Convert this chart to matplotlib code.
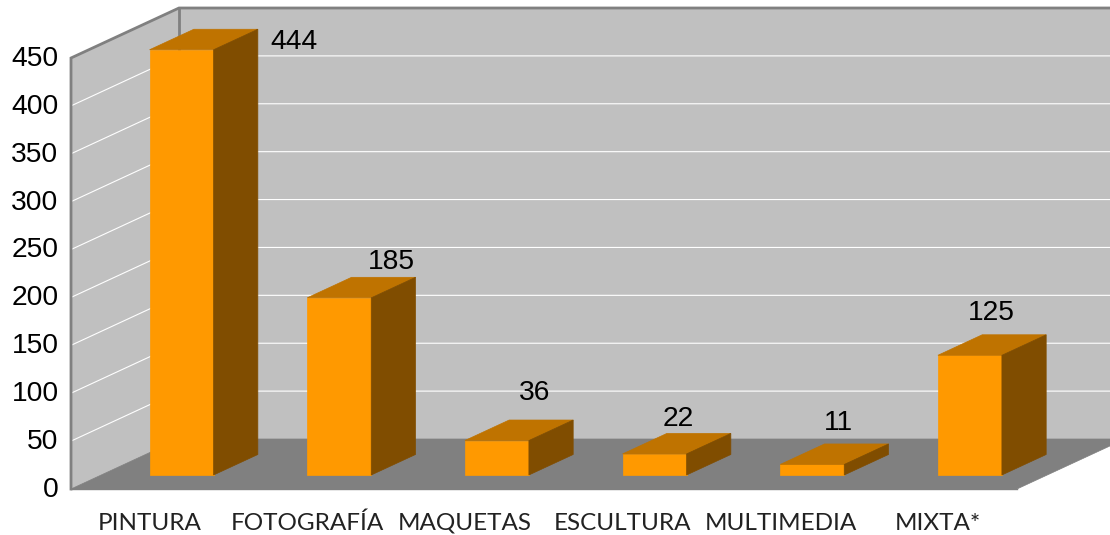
import matplotlib
matplotlib.use("Agg")
import matplotlib.pyplot as plt
from matplotlib.patches import Polygon
from matplotlib.transforms import ScaledTranslation

categories = ['PINTURA', 'FOTOGRAFÍA', 'MAQUETAS', 'ESCULTURA', 'MULTIMEDIA', 'MIXTA*']
values = [444, 185, 36, 22, 11, 125]
yticks = [0, 50, 100, 150, 200, 250, 300, 350, 400, 450]

# where the value labels sit, px away from the top front centre of each bar
label_dx = [112, 52, 38, 24, 26, 21]
label_dy = [8, 36, 48, 35, 41, 42]

W, H = 1110, 535
fig = plt.figure(figsize=(W / 100, H / 100), dpi=100, facecolor='white')
ax = fig.add_axes([71 / W, (H - 489) / H, 946 / W, 431 / H])
ax.set_xlim(0, 6)
ax.set_ylim(0, 450)
ax.patch.set_visible(False)
for s in ax.spines.values():
    s.set_visible(False)

# shift of the full chart depth in data units
DX = 108 / 946 * 6
DY = 50 / 431 * 450


def pt(x, v, d):
    return (x + d * DX, v + d * DY)


def face(points, color, z):
    ax.add_patch(Polygon(points, closed=True, fc=color, ec=color, lw=0.5, zorder=z, clip_on=False))


wall = '#C0C0C0'
floor = '#808080'
edge = '#808080'

face([pt(0, 0, 0), pt(0, 450, 0), pt(0, 450, 1), pt(0, 0, 1)], wall, 1)
face([pt(0, 0, 1), pt(0, 450, 1), pt(6, 450, 1), pt(6, 0, 1)], wall, 1)
face([pt(0, 0, 0), pt(6, 0, 0), pt(6, 0, 1), pt(0, 0, 1)], floor, 2)

for t in yticks[1:-1]:
    xs, ys = zip(pt(0, t, 0), pt(0, t, 1), pt(6, t, 1))
    ax.plot(xs, ys, color='white', lw=0.8, zorder=1.5, clip_on=False)
t = yticks[-1]
xs, ys = zip(pt(0, 0, 0), pt(0, t, 0), pt(0, t, 1), pt(6, t, 1))
ax.plot(xs, ys, color=edge, lw=2, zorder=1.6, clip_on=False, solid_joinstyle='miter')
xs, ys = zip(pt(0, t, 1), pt(0, 0, 1))
ax.plot(xs, ys, color=edge, lw=2, zorder=1.6, clip_on=False)
ax.plot([0, 6], [0, 0], color=edge, lw=1, zorder=2, clip_on=False)

# bars
bw = 64 / 946 * 6
shift = 1.5 / 946 * 6
d0, d1 = 0.28, 0.69
for i, v in enumerate(values):
    x0 = i + 0.5 - bw / 2 + shift
    x1 = x0 + bw
    z = 3 + i
    face([pt(x0, 0, d0), pt(x1, 0, d0), pt(x1, v, d0), pt(x0, v, d0)], '#FF9900', z)
    face([pt(x0, v, d0), pt(x1, v, d0), pt(x1, v, d1), pt(x0, v, d1)], '#BF7300', z)
    face([pt(x1, 0, d0), pt(x1, 0, d1), pt(x1, v, d1), pt(x1, v, d0)], '#804D00', z)
    ax.annotate(str(v), xy=pt(i + 0.5 + shift, v, d0), xytext=(label_dx[i] * 0.72, label_dy[i] * 0.72),
                textcoords='offset points', ha='center', va='center', fontsize=20.3,
                family='Liberation Sans', color='black', zorder=20, annotation_clip=False)

ax.set_yticks(yticks)
ax.set_xticks([i + 0.5 for i in range(len(categories))])
ax.set_xticklabels(categories, family='Lato', fontsize=17.5, color='#222222')
ax.set_yticklabels([str(t) for t in yticks], family='Liberation Sans', fontsize=20.3, color='black')
ax.tick_params(axis='both', length=0)
ax.tick_params(axis='y', pad=9)
ax.tick_params(axis='x', pad=17)

up = ScaledTranslation(0, 1.5 / 72, fig.dpi_scale_trans)
for lab in ax.get_yticklabels():
    lab.set_transform(lab.get_transform() + up)

fig.savefig('out.png', dpi=100)
